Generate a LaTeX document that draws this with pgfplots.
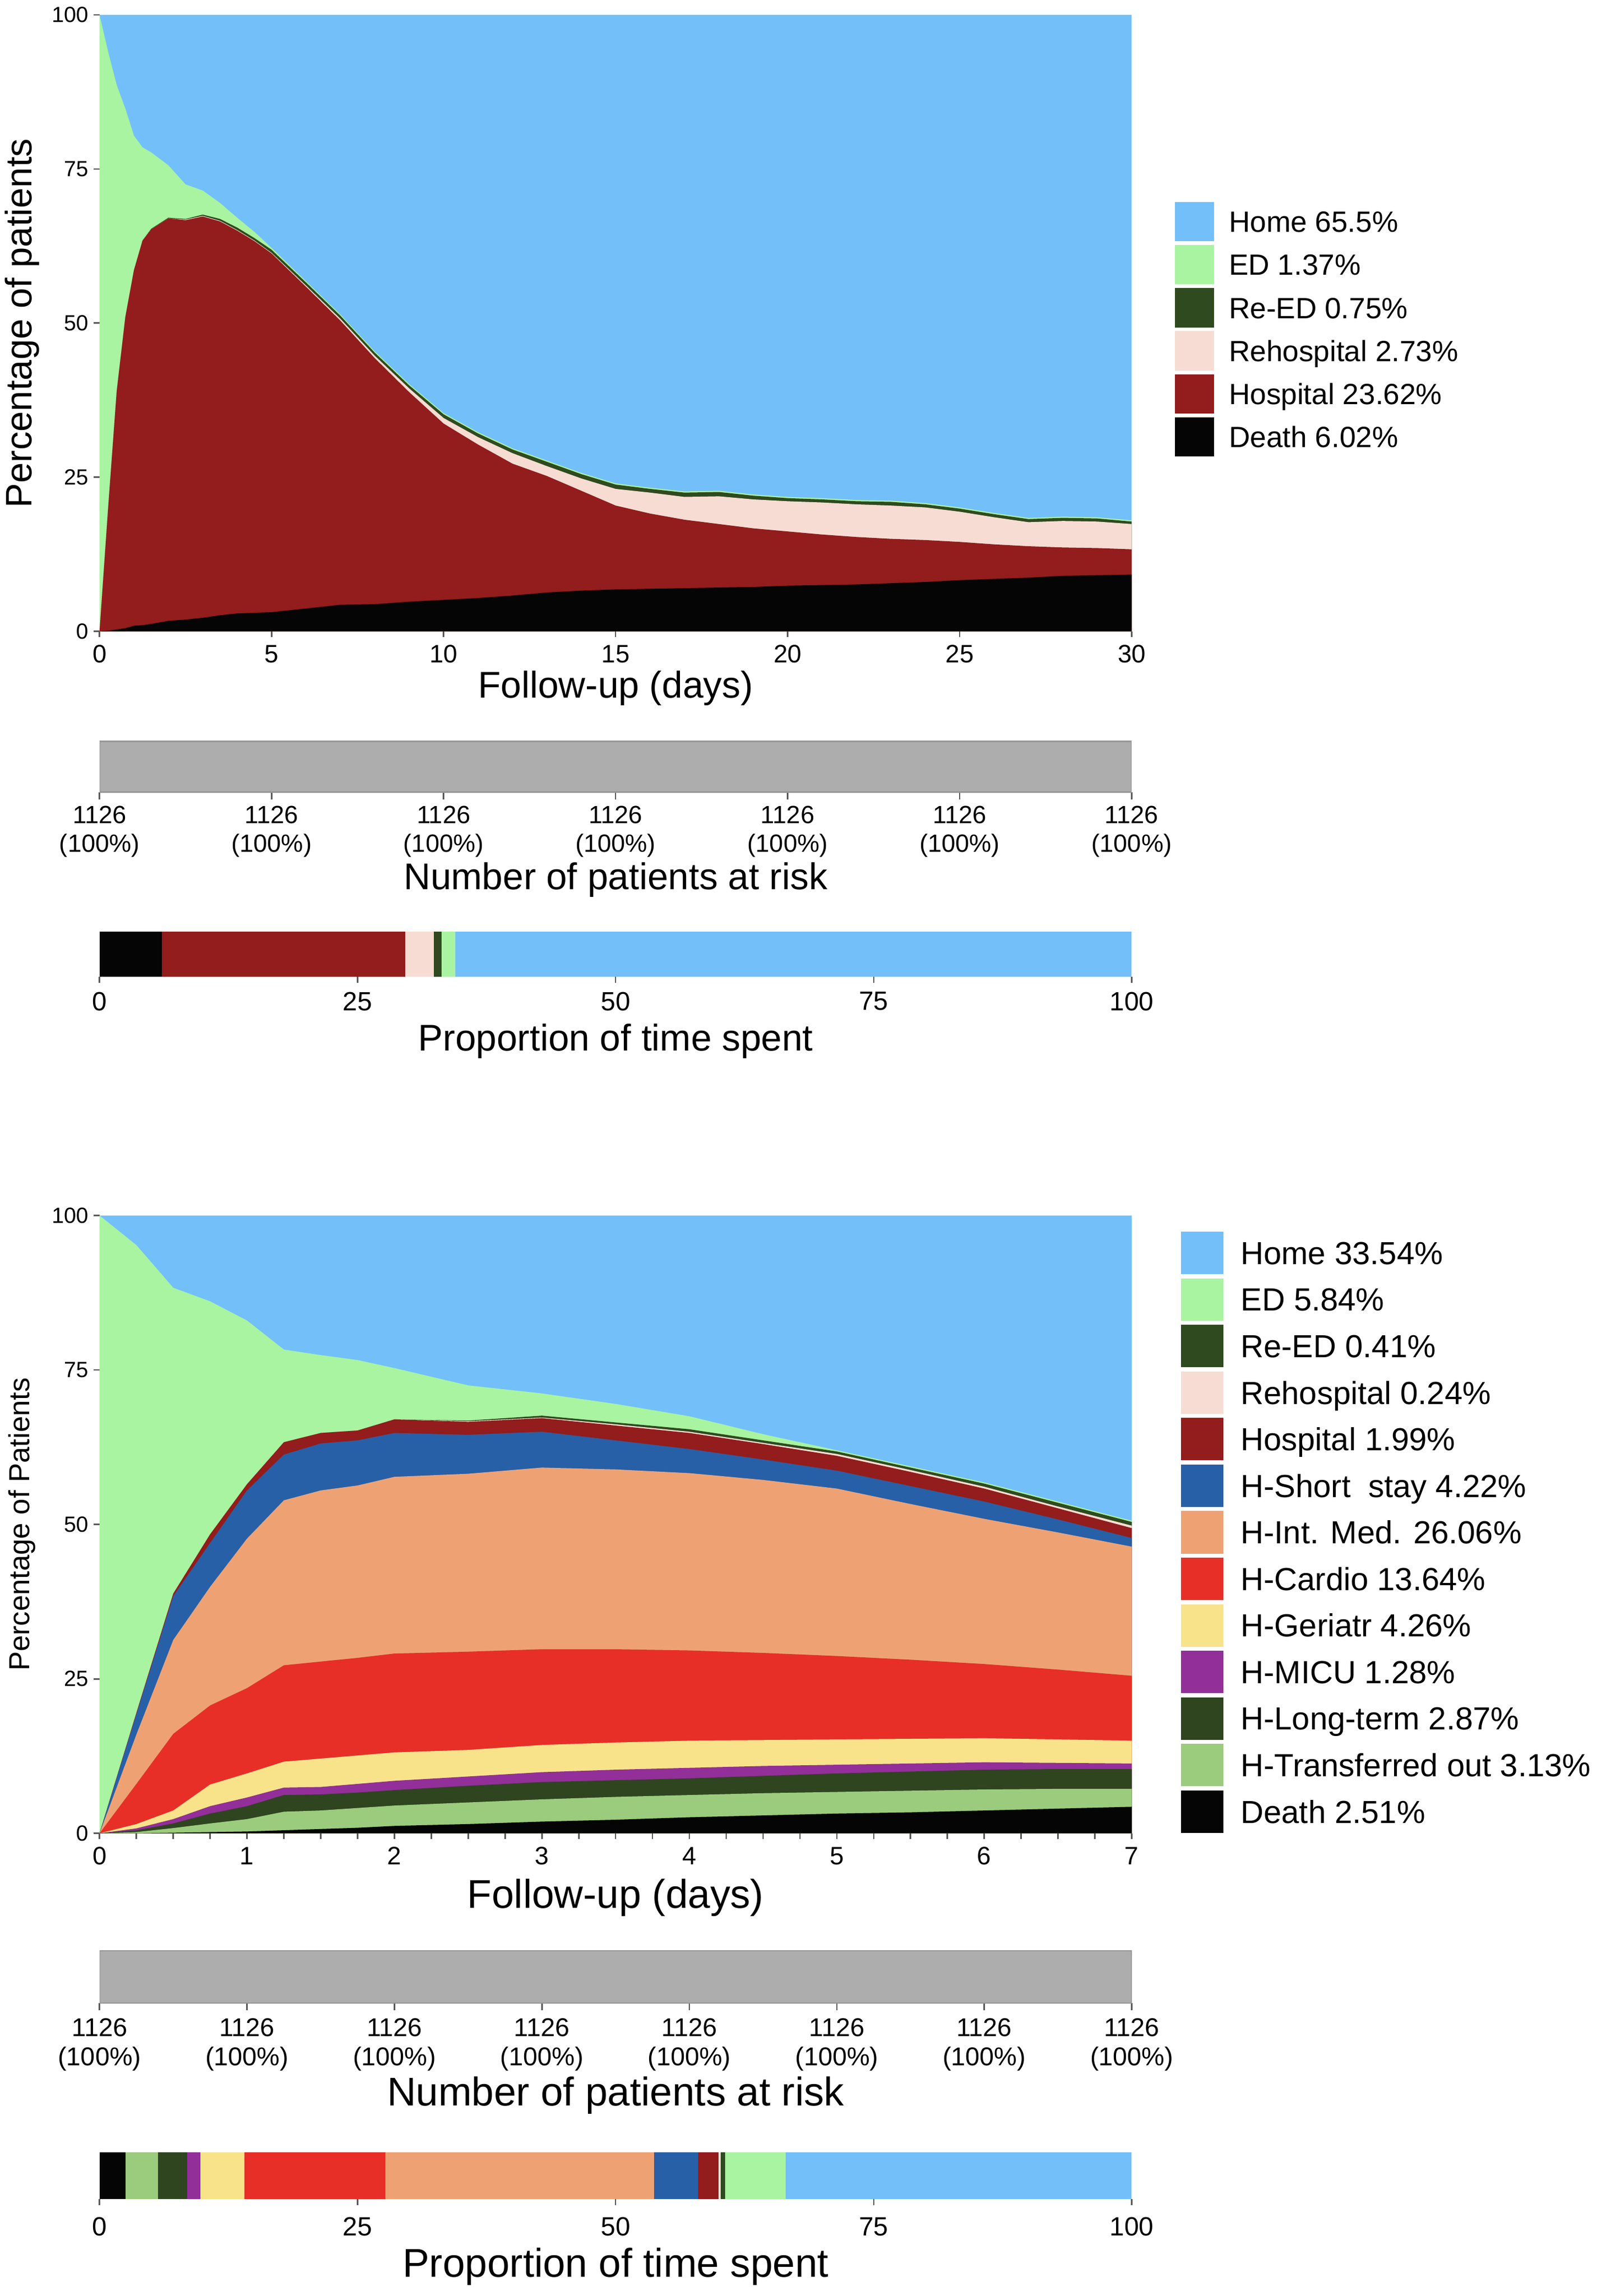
\documentclass[border=0pt]{standalone}
\usepackage{fontspec}
\setmainfont{Liberation Sans}
\usepackage{pgfplots}
\usepackage{pgfplotstable}
\pgfplotsset{compat=1.18}

\definecolor{cHome}{HTML}{73BFF9}
\definecolor{cED}{HTML}{A8F4A0}
\definecolor{cReED}{HTML}{2F4A1F}
\definecolor{cReH}{HTML}{F7DCD3}
\definecolor{cHosp}{HTML}{931C1C}
\definecolor{cDeath}{HTML}{050505}
\definecolor{cShort}{HTML}{2760A7}
\definecolor{cIntMed}{HTML}{EEA274}
\definecolor{cCardio}{HTML}{E72F27}
\definecolor{cGer}{HTML}{F8E38B}
\definecolor{cMICU}{HTML}{922F98}
\definecolor{cLong}{HTML}{2E4520}
\definecolor{cTrans}{HTML}{9BCB7C}
\definecolor{cRisk}{HTML}{ADADAD}
\definecolor{cRiskEdge}{HTML}{979797}

% cumulative upper boundaries of the stacked layers, 30-day follow-up
\pgfplotstableread{
t     D    H     R     RE    ED    HM
0     0    0     0     0     100   100
0.25  0.1  20.0  20.0  20.0  94.0  100
0.5   0.3  39.0  39.0  39.0  88.6  100
0.75  0.5  51.0  51.0  51.0  84.8  100
1     0.9  58.6  58.6  58.6  80.4  100
1.25  1.0  63.4  63.4  63.4  78.5  100
1.5   1.2  65.2  65.2  65.3  77.7  100
2     1.7  67.0  67.0  67.1  75.6  100
2.5   1.9  66.7  66.8  66.9  72.5  100
3     2.2  67.3  67.4  67.6  71.5  100
3.5   2.6  66.5  66.6  66.9  69.5  100
4     2.9  65.0  65.1  65.5  67.1  100
4.5   3.0  63.3  63.4  63.8  64.8  100
5     3.1  61.3  61.4  61.9  62.2  100
6     3.7  55.9  56.1  56.6  56.8  100
7     4.3  50.4  50.7  51.2  51.4  100
8     4.4  44.3  44.7  45.2  45.4  100
9     4.8  38.8  39.4  39.9  40.1  100
10    5.1  33.7  34.6  35.2  35.4  100
11    5.4  30.3  31.5  32.1  32.3  100
12    5.8  27.2  28.9  29.5  29.7  100
13    6.3  25.2  26.8  27.5  27.7  100
14    6.6  22.8  24.8  25.5  25.7  100
15    6.8  20.4  23.1  23.8  24.0  100
16    6.9  19.1  22.5  23.1  23.3  100
17    7.0  18.1  21.8  22.5  22.7  100
18    7.1  17.4  21.9  22.6  22.8  100
19    7.2  16.7  21.4  22.0  22.2  100
20    7.4  16.2  21.1  21.6  21.8  100
21    7.5  15.7  20.9  21.4  21.6  100
22    7.6  15.3  20.6  21.1  21.3  100
23    7.8  15.0  20.4  21.0  21.2  100
24    8.0  14.8  20.1  20.6  20.8  100
25    8.3  14.5  19.4  19.9  20.1  100
26    8.5  14.1  18.5  19.0  19.2  100
27    8.7  13.8  17.7  18.2  18.4  100
28    9.0  13.6  17.9  18.4  18.6  100
29    9.1  13.5  17.8  18.3  18.5  100
30    9.2  13.3  17.4  17.8  18.0  100
}\topdata

% cumulative upper boundaries, 7-day follow-up
\pgfplotstableread{
t     D    TO    LT    MI    GE    CA    IM    SS    HO    RH    RE    ED    HM
0     0    0     0     0     0     0     0     0     0     0     0     100   100
0.25  0    0.2   0.5   0.8   1.5   8.0   16.0  19.3  19.5  19.5  19.5  95.2  100
0.5   0.1  0.85  1.6   2.3   3.7   16.1  31.3  38.4  38.8  38.8  38.8  88.3  100
0.75  0.2  1.6   3.2   4.4   7.9   20.7  39.9  47.0  48.4  48.4  48.4  86.1  100
1     0.3  2.3   4.4   5.8   9.7   23.5  47.7  55.5  56.5  56.5  56.5  83.0  100
1.25  0.5  3.5   6.2   7.4   11.6  27.2  53.9  61.3  63.3  63.3  63.3  78.3  100
1.5   0.7  3.7   6.3   7.5   12.1  27.8  55.5  63.1  64.8  64.8  64.8  77.4  100
1.75  0.9  4.1   6.6   8.0   12.6  28.4  56.3  63.6  65.2  65.2  65.2  76.6  100
2     1.2  4.5   7.0   8.5   13.1  29.1  57.7  64.8  67.0  67.0  67.0  75.3  100
2.5   1.5  5.0   7.7   9.2   13.5  29.4  58.2  64.5  66.6  66.7  66.8  72.5  100
3     1.9  5.5   8.3   9.9   14.3  29.8  59.2  65.0  67.2  67.3  67.6  71.2  100
3.5   2.2  5.9   8.6   10.3  14.7  29.8  58.9  63.6  66.0  66.2  66.5  69.5  100
4     2.6  6.2   8.9   10.6  15.0  29.6  58.3  62.2  64.8  65.0  65.4  67.5  100
4.5   2.9  6.5   9.3   10.9  15.1  29.2  57.2  60.5  63.0  63.2  63.6  64.6  100
5     3.2  6.7   9.7   11.1  15.2  28.7  55.8  58.7  61.1  61.4  61.8  62.0  100
5.5   3.4  6.9   10.0  11.3  15.3  28.1  53.3  56.2  58.5  58.8  59.2  59.4  100
6     3.7  7.1   10.3  11.5  15.4  27.4  50.9  53.7  55.8  56.1  56.6  56.8  100
6.5   4.0  7.2   10.4  11.4  15.2  26.5  48.7  50.8  52.6  52.9  53.5  53.7  100
7     4.3  7.2   10.4  11.3  15.0  25.5  46.4  47.8  49.4  49.8  50.4  50.6  100
}\botdata

\pgfplotsset{
  common/.style={
    scale only axis, width=352.5pt, enlargelimits=false,
    axis line style={draw=none},
    tick align=outside, major tick length=2pt, minor tick length=2pt,
    tick style={black!65, line width=0.5pt},
    xtick pos=left, ytick pos=left,
    /pgf/number format/assume math mode=true,
  },
  mainax/.style={
    common, ymin=0, ymax=100, ytick={0,25,50,75,100},
    yticklabel style={font=\fontsize{7.5}{9}\selectfont, inner sep=1.5pt},
    xticklabel style={font=\fontsize{8.6}{10}\selectfont, inner sep=1.5pt, yshift=-1pt},
    legend cell align=left,
  },
  stripax/.style={
    common, ymin=0, ymax=1, ytick=\empty,
  },
}

\begin{document}
\begin{tikzpicture}
\path[use as bounding box] (0,0) rectangle (550pt,784.1pt);

% ---------------- top: 30-day follow-up ----------------
\begin{axis}[mainax, at={(34pt,568.5pt)}, anchor=south west, height=210.5pt,
  xmin=0, xmax=30, xtick={0,5,...,30},
  xlabel={Follow-up (days)},
  ylabel={Percentage of patients},
  x label style={at={(axis description cs:0.5,-0.0926)}, anchor=center, font=\fontsize{12.7}{14}\selectfont},
  y label style={at={(axis description cs:-0.0752,0.5)}, anchor=center, font=\fontsize{12.6}{14}\selectfont},
  legend image code/.code={\fill[#1] (0pt,-6.7pt) rectangle (13.4pt,6.7pt);},
  legend style={draw=none, fill=none, at={(1,1)}, anchor=north west,
    xshift=14.8pt, yshift=-63.9pt, inner sep=0pt, outer sep=0pt, row sep=1.3pt,
    font=\fontsize{10}{12}\selectfont,
    nodes={inner sep=0pt, text height=7.2pt, text depth=0pt},
    /tikz/every odd column/.append style={column sep=5pt}},
]
\addplot[fill=cHome, draw=none] table[x=t,y=HM] {\topdata} \closedcycle;
\addlegendentry{Home 65.5\%}
\addplot[fill=cED, draw=none] table[x=t,y=ED] {\topdata} \closedcycle;
\addlegendentry{ED 1.37\%}
\addplot[fill=cReED, draw=none] table[x=t,y=RE] {\topdata} \closedcycle;
\addlegendentry{Re-ED 0.75\%}
\addplot[fill=cReH, draw=none] table[x=t,y=R] {\topdata} \closedcycle;
\addlegendentry{Rehospital 2.73\%}
\addplot[fill=cHosp, draw=none] table[x=t,y=H] {\topdata} \closedcycle;
\addlegendentry{Hospital 23.62\%}
\addplot[fill=cDeath, draw=none] table[x=t,y=D] {\topdata} \closedcycle;
\addlegendentry{Death 6.02\%}
\end{axis}

\begin{axis}[stripax, at={(34pt,513.5pt)}, anchor=south west, height=17.5pt,
  xmin=0, xmax=30, xtick={0,5,...,30}, major tick length=2.5pt,
  xticklabels={{1126\\(100\%)},{1126\\(100\%)},{1126\\(100\%)},{1126\\(100\%)},{1126\\(100\%)},{1126\\(100\%)},{1126\\(100\%)}},
  xticklabel style={align=center, font=\fontsize{8.5}{9.8}\selectfont, inner sep=1.5pt, yshift=-0.5pt},
  xlabel={Number of patients at risk},
  x label style={at={(axis description cs:0.5,-1.71)}, anchor=center, font=\fontsize{12.7}{14}\selectfont},
]
\addplot[fill=cRisk, draw=cRiskEdge, line width=0.6pt] coordinates {(0,1) (30,1)} \closedcycle;
\end{axis}

\begin{axis}[stripax, at={(34pt,450.5pt)}, anchor=south west, height=15.5pt,
  xmin=0, xmax=100, xtick={0,25,50,75,100},
  xbar stacked, bar width=1, ymin=-0.5, ymax=0.5,
  xticklabel style={font=\fontsize{9}{10}\selectfont, inner sep=1.5pt, yshift=-1.5pt},
  xlabel={Proportion of time spent},
  x label style={at={(axis description cs:0.5,-1.42)}, anchor=center, font=\fontsize{12.7}{14}\selectfont},
]
\addplot[fill=cDeath, draw=none] coordinates {(6.02,0)};
\addplot[fill=cHosp, draw=none] coordinates {(23.62,0)};
\addplot[fill=cReH, draw=none] coordinates {(2.73,0)};
\addplot[fill=cReED, draw=none] coordinates {(0.75,0)};
\addplot[fill=cED, draw=none] coordinates {(1.37,0)};
\addplot[fill=cHome, draw=none] coordinates {(65.5,0)};
\end{axis}

% ---------------- bottom: 7-day follow-up ----------------
\begin{axis}[mainax, at={(34pt,158pt)}, anchor=south west, height=211pt,
  xmin=0, xmax=7, xtick={0,...,7}, minor x tick num=3,
  xlabel={Follow-up (days)},
  ylabel={Percentage of Patients},
  x label style={at={(axis description cs:0.5,-0.1043)}, anchor=center, font=\fontsize{13.7}{15}\selectfont},
  y label style={at={(axis description cs:-0.0752,0.5)}, anchor=center, font=\fontsize{9.9}{11}\selectfont},
  legend image code/.code={\fill[#1] (0pt,-7.25pt) rectangle (14.5pt,7.25pt);},
  legend style={draw=none, fill=none, at={(1,1)}, anchor=north west,
    xshift=16.75pt, yshift=-5.55pt, inner sep=0pt, outer sep=0pt, row sep=1.4pt,
    font=\fontsize{10.9}{12.5}\selectfont,
    nodes={inner sep=0pt, text height=7.8pt, text depth=0pt},
    /tikz/every odd column/.append style={column sep=6pt}},
]
\addplot[fill=cHome, draw=none] table[x=t,y=HM] {\botdata} \closedcycle;
\addlegendentry{Home 33.54\%}
\addplot[fill=cED, draw=none] table[x=t,y=ED] {\botdata} \closedcycle;
\addlegendentry{ED 5.84\%}
\addplot[fill=cReED, draw=none] table[x=t,y=RE] {\botdata} \closedcycle;
\addlegendentry{Re-ED 0.41\%}
\addplot[fill=cReH, draw=none] table[x=t,y=RH] {\botdata} \closedcycle;
\addlegendentry{Rehospital 0.24\%}
\addplot[fill=cHosp, draw=none] table[x=t,y=HO] {\botdata} \closedcycle;
\addlegendentry{Hospital 1.99\%}
\addplot[fill=cShort, draw=none] table[x=t,y=SS] {\botdata} \closedcycle;
\addlegendentry{H-Short\ \ stay 4.22\%}
\addplot[fill=cIntMed, draw=none] table[x=t,y=IM] {\botdata} \closedcycle;
\addlegendentry{H-Int. Med. 26.06\%}
\addplot[fill=cCardio, draw=none] table[x=t,y=CA] {\botdata} \closedcycle;
\addlegendentry{H-Cardio 13.64\%}
\addplot[fill=cGer, draw=none] table[x=t,y=GE] {\botdata} \closedcycle;
\addlegendentry{H-Geriatr 4.26\%}
\addplot[fill=cMICU, draw=none] table[x=t,y=MI] {\botdata} \closedcycle;
\addlegendentry{H-MICU 1.28\%}
\addplot[fill=cLong, draw=none] table[x=t,y=LT] {\botdata} \closedcycle;
\addlegendentry{H-Long-term 2.87\%}
\addplot[fill=cTrans, draw=none] table[x=t,y=TO] {\botdata} \closedcycle;
\addlegendentry{H-Transferred out 3.13\%}
\addplot[fill=cDeath, draw=none] table[x=t,y=D] {\botdata} \closedcycle;
\addlegendentry{Death 2.51\%}
\end{axis}

\begin{axis}[stripax, at={(34pt,100pt)}, anchor=south west, height=18pt,
  xmin=0, xmax=7, xtick={0,...,7}, major tick length=2.5pt,
  xticklabels={{1126\\(100\%)},{1126\\(100\%)},{1126\\(100\%)},{1126\\(100\%)},{1126\\(100\%)},{1126\\(100\%)},{1126\\(100\%)},{1126\\(100\%)}},
  xticklabel style={align=center, font=\fontsize{8.8}{10}\selectfont, inner sep=1.5pt, yshift=-1pt},
  xlabel={Number of patients at risk},
  x label style={at={(axis description cs:0.5,-1.75)}, anchor=center, font=\fontsize{13.7}{15}\selectfont},
]
\addplot[fill=cRisk, draw=cRiskEdge, line width=0.6pt] coordinates {(0,1) (7,1)} \closedcycle;
\end{axis}

\begin{axis}[stripax, at={(34pt,33pt)}, anchor=south west, height=16pt,
  xmin=0, xmax=100, xtick={0,25,50,75,100},
  xbar stacked, bar width=1, ymin=-0.5, ymax=0.5,
  xticklabel style={font=\fontsize{9}{10}\selectfont, inner sep=1.5pt, yshift=-2.5pt},
  xlabel={Proportion of time spent},
  x label style={at={(axis description cs:0.5,-1.4375)}, anchor=center, font=\fontsize{13.7}{15}\selectfont},
]
\addplot[fill=cDeath, draw=none] coordinates {(2.51,0)};
\addplot[fill=cTrans, draw=none] coordinates {(3.13,0)};
\addplot[fill=cLong, draw=none] coordinates {(2.87,0)};
\addplot[fill=cMICU, draw=none] coordinates {(1.28,0)};
\addplot[fill=cGer, draw=none] coordinates {(4.26,0)};
\addplot[fill=cCardio, draw=none] coordinates {(13.64,0)};
\addplot[fill=cIntMed, draw=none] coordinates {(26.06,0)};
\addplot[fill=cShort, draw=none] coordinates {(4.22,0)};
\addplot[fill=cHosp, draw=none] coordinates {(1.99,0)};
\addplot[fill=cReH, draw=none] coordinates {(0.24,0)};
\addplot[fill=cReED, draw=none] coordinates {(0.41,0)};
\addplot[fill=cED, draw=none] coordinates {(5.84,0)};
\addplot[fill=cHome, draw=none] coordinates {(33.54,0)};
\end{axis}
\end{tikzpicture}
\end{document}
